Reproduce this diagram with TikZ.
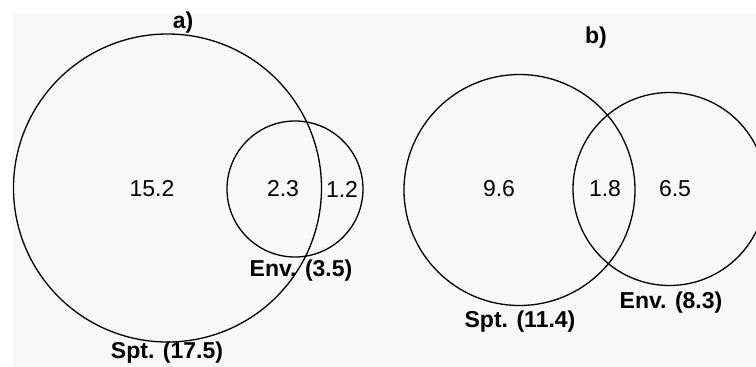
\documentclass[tikz,border=0pt]{standalone}
\usepackage{fontspec}
\setmainfont{Liberation Sans}
\definecolor{bggray}{HTML}{F8F8F8}
\begin{document}
\begin{tikzpicture}[x=1pt,y=-1pt,
  venn/.style={draw=black,line width=1.3pt,circle,inner sep=0pt},
  num/.style={font=\fontsize{23}{27}\selectfont,inner sep=0pt},
  lab/.style={font=\fontsize{23}{27}\selectfont\bfseries,inner sep=0pt}]
\useasboundingbox (0,0) rectangle (756,367);
\clip (0,0) rectangle (756,367);
\fill[white] (0,0) rectangle (756,367);
\fill[bggray] (13,13) rectangle (756,367);
% panel a
\node[venn,minimum size=308pt] (sa) at (167.5,188) {};
\node[venn,minimum size=136pt] (ea) at (295,189) {};
\node[lab] (ta) at (183,23) {a)};
\node[num] (n152) at (152,189) {15.2};
\node[num] (n23) at (283,189) {2.3};
\node[num] (n12) at (342,189) {1.2};
\node[lab] (lea) at (301,271) {Env. (3.5)};
\node[lab] (lsa) at (167,353) {Spt. (17.5)};
% panel b
\node[venn,minimum size=231pt] (sb) at (519.5,190) {};
\node[venn,minimum size=193pt] (eb) at (669.5,189) {};
\node[lab] (tb) at (596,38) {b)};
\node[num] (n96) at (499,189) {9.6};
\node[num] (n18) at (605,189) {1.8};
\node[num] (n65) at (675,189) {6.5};
\node[lab] (leb) at (671,303) {Env. (8.3)};
\node[lab] (lsb) at (520,322) {Spt. (11.4)};
\end{tikzpicture}
\end{document}
